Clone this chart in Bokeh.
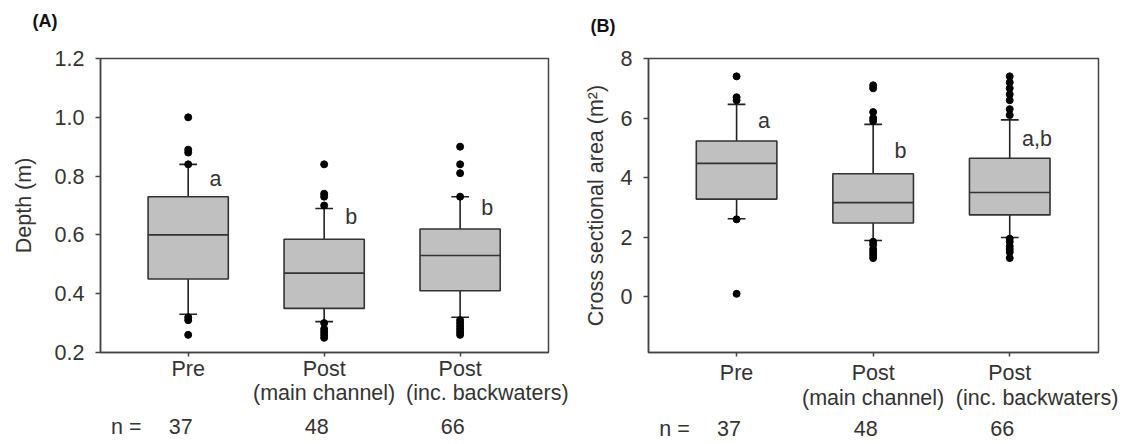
from bokeh.plotting import figure
from bokeh.models import FixedTicker, LinearAxis, Range1d, NumeralTickFormatter, ColumnDataSource, Title
from bokeh.layouts import row
from bokeh.core.properties import value
from bokeh.embed import file_html
from bokeh.resources import INLINE

# ---------------- data ----------------
categories = ["Pre", "Post\n(main channel)", "Post\n(inc. backwaters)"]
n_counts = ["37", "48", "66"]

# Panel A: depth (m)
a_q1 = [0.45, 0.35, 0.41]
a_med = [0.60, 0.47, 0.53]
a_q3 = [0.73, 0.585, 0.62]
a_wlo = [0.33, 0.305, 0.32]
a_whi = [0.84, 0.69, 0.73]
a_out = [
    [1.0, 0.89, 0.88, 0.84, 0.32, 0.31, 0.26],
    [0.84, 0.74, 0.73, 0.70, 0.30, 0.28, 0.27, 0.26, 0.25],
    [0.90, 0.84, 0.81, 0.73, 0.31, 0.30, 0.29, 0.28, 0.27, 0.26],
]
a_letters = ["a", "b", "b"]
a_letter_y = [0.79, 0.66, 0.69]

# Panel B: cross sectional area (m2)
b_q1 = [3.28, 2.48, 2.75]
b_med = [4.48, 3.16, 3.50]
b_q3 = [5.23, 4.13, 4.65]
b_wlo = [2.62, 1.89, 1.99]
b_whi = [6.46, 5.79, 5.94]
b_out = [
    [7.4, 6.7, 6.6, 2.6, 0.1],
    [7.1, 7.0, 6.2, 6.0, 5.9, 1.85, 1.75, 1.6, 1.5, 1.4, 1.3],
    [7.4, 7.2, 7.0, 6.8, 6.6, 6.3, 6.1, 1.95, 1.85, 1.7, 1.6, 1.5, 1.3],
]
b_letters = ["a", "b", "a,b"]
b_letter_y = [5.9, 4.9, 5.3]

# ---------------- style ----------------
FONT = "Liberation Sans"
FS = "21.5px"
TXT = "#333333"
LINE = "#444444"
BOX_W = 0.59
CAP_W = 0.13
N_LABEL_X = 0.545
N_SHIFT = -0.055
LETTER_DX = 0.2
SUB_SHIFT = [0.0, 0.0, 0.2]   # horizontal shift of the second label line
HEIGHT = 444


def label_axis(ticks, labels, standoff):
    return LinearAxis(ticker=FixedTicker(ticks=ticks),
                      major_label_overrides={t: s for t, s in zip(ticks, labels)},
                      axis_line_color=None, major_tick_line_color=None, minor_tick_line_color=None,
                      major_tick_out=0, major_tick_in=0,
                      major_label_text_font=FONT, major_label_text_font_size=FS,
                      major_label_text_color=TXT, major_label_standoff=standoff)


def panel(tag, ylabel, yr, yticks, fmt, q1, med, q3, wlo, whi, outs, letters, letter_y,
          width, border_left, border_right, border_top, border_bottom, ylab_standoff,
          s1, s2, s3, tag_left, spacer_size, spacer_standoff):
    pos = [i + 1 for i in range(len(categories))]
    p = figure(width=width, height=HEIGHT, output_backend="svg", toolbar_location=None,
               title=None,
               x_range=Range1d(0.355, 3.65), y_range=Range1d(*yr),
               min_border_left=border_left, min_border_right=border_right,
               min_border_top=border_top, min_border_bottom=border_bottom)
    p.grid.visible = False
    p.background_fill_color = "white"
    p.border_fill_color = "white"
    p.outline_line_color = LINE
    p.outline_line_width = 1.5

    # boxes
    src = ColumnDataSource(dict(x=pos, q1=q1, med=med, q3=q3, wlo=wlo, whi=whi))
    p.segment(x0="x", y0="q3", x1="x", y1="whi", source=src, line_color="#222222", line_width=1.6)
    p.segment(x0="x", y0="q1", x1="x", y1="wlo", source=src, line_color="#222222", line_width=1.6)
    p.vbar(x="x", width=BOX_W, bottom="q1", top="q3", source=src,
           fill_color="#c0c0c0", line_color="#333333", line_width=1.6)
    p.segment(x0=[x - BOX_W / 2 for x in pos], y0=med, x1=[x + BOX_W / 2 for x in pos], y1=med,
              line_color="#333333", line_width=1.6)
    p.segment(x0=[x - CAP_W / 2 for x in pos], y0=whi, x1=[x + CAP_W / 2 for x in pos], y1=whi,
              line_color="#222222", line_width=1.6)
    p.segment(x0=[x - CAP_W / 2 for x in pos], y0=wlo, x1=[x + CAP_W / 2 for x in pos], y1=wlo,
              line_color="#222222", line_width=1.6)
    ox, oy = [], []
    for x, vals in zip(pos, outs):
        for v in vals:
            ox.append(x)
            oy.append(v)
    p.scatter(ox, oy, size=7, color="black")

    p.text(x=[x + LETTER_DX for x in pos], y=letter_y, text=letters, text_align="center",
           text_baseline="middle", text_font=value(FONT), text_font_size=FS, text_color=TXT)

    # axes
    first = [c.split("\n")[0] for c in categories]
    xa = p.xaxis[0]
    xa.ticker = FixedTicker(ticks=pos)
    xa.major_label_overrides = {x: c for x, c in zip(pos, first)}
    xa.minor_tick_line_color = None
    xa.major_tick_out = 4
    xa.major_tick_in = 0
    xa.major_label_standoff = s1
    for ax in [xa, p.yaxis[0]]:
        ax.axis_line_color = LINE
        ax.axis_line_width = 1.5
        ax.major_tick_line_color = LINE
        ax.major_tick_line_width = 1.5
        ax.major_label_text_font = FONT
        ax.major_label_text_font_size = FS
        ax.major_label_text_color = TXT
    ya = p.yaxis[0]
    ya.ticker = FixedTicker(ticks=yticks)
    ya.formatter = NumeralTickFormatter(format=fmt)
    ya.minor_tick_line_color = None
    ya.major_tick_out = 5
    ya.major_tick_in = 0
    ya.major_label_standoff = 11
    ya.axis_label = ylabel
    ya.axis_label_text_font = FONT
    ya.axis_label_text_font_size = FS
    ya.axis_label_text_font_style = "normal"
    ya.axis_label_text_color = TXT
    ya.axis_label_standoff = ylab_standoff

    # second label line
    sub_ticks, sub_labels = [], []
    for x, c, sh in zip(pos, categories, SUB_SHIFT):
        parts = c.split("\n")
        if len(parts) > 1:
            sub_ticks.append(x + sh)
            sub_labels.append(parts[1])
    p.add_layout(label_axis(sub_ticks, sub_labels, s2), "below")

    # n = row
    n_ticks = [N_LABEL_X] + [x + N_SHIFT for x in pos]
    p.add_layout(label_axis(n_ticks, ["n ="] + n_counts, s3), "below")

    # panel tag: a blank spacer title next to the frame, the tag above it
    p.add_layout(Title(text=" ", text_font=FONT, text_font_size=spacer_size,
                       standoff=spacer_standoff), "above")
    p.add_layout(Title(text=tag, text_font=FONT, text_font_size="18px", text_font_style="bold",
                       text_color="#111111", align="left", offset=-(border_left - tag_left),
                       standoff=0), "above")
    return p


pa = panel("(A)", "Depth (m)", (0.2, 1.2), [0.2, 0.4, 0.6, 0.8, 1.0, 1.2], "0.0",
           a_q1, a_med, a_q3, a_wlo, a_whi, a_out, a_letters, a_letter_y,
           width=570, border_left=100, border_right=22, border_top=58, border_bottom=92,
           ylab_standoff=16, s1=0, s2=-3, s3=7, tag_left=32,
           spacer_size="18px", spacer_standoff=6)
pb = panel("(B)", "Cross sectional area (m²)", (-1.87, 8.0), [0, 2, 4, 6, 8], "0",
           b_q1, b_med, b_q3, b_wlo, b_whi, b_out, b_letters, b_letter_y,
           width=548, border_left=78, border_right=20, border_top=58, border_bottom=92,
           ylab_standoff=10, s1=4, s2=-2, s3=4, tag_left=20,
           spacer_size="14px", spacer_standoff=4.5)

layout = row(pa, pb)
open("out.html", "w").write(file_html(layout, INLINE))
